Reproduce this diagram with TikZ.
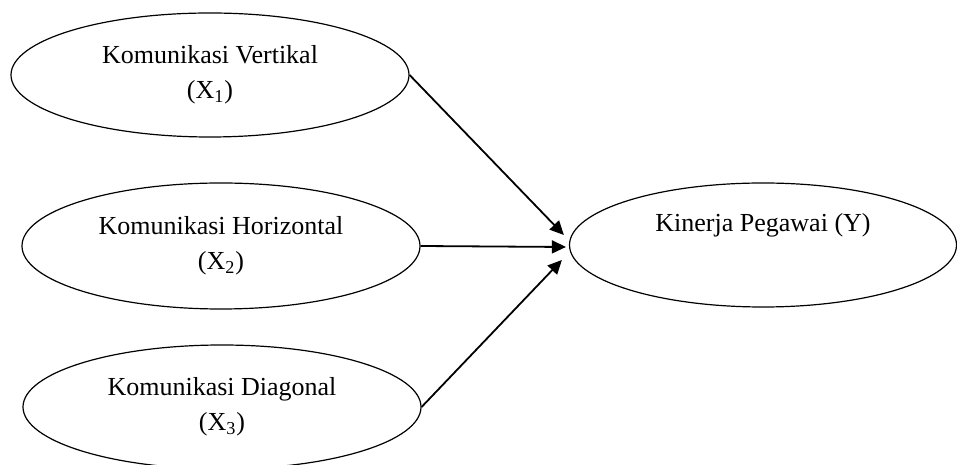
\documentclass[tikz,border=0pt]{standalone}
\usepackage{fontspec}
\setmainfont{Liberation Serif}
\usetikzlibrary{shapes.geometric,arrows.meta}

\begin{document}
\begin{tikzpicture}[x=0.5pt,y=0.5pt,
  var/.style={draw,ellipse,line width=0.6pt,minimum width=199pt,minimum height=62pt,
    inner sep=0pt,align=center,font=\fontsize{13}{17.5}\selectfont},
  arr/.style={-{Triangle[length=7pt,width=6.5pt]},line width=0.9pt}]
\useasboundingbox (0,0) rectangle (957,465);
\node[var] (x1) at (210,390) {Komunikasi Vertikal\\(X\textsubscript{1})};
\node[var,minimum height=63pt] (x2) at (221,219) {Komunikasi Horizontal\\(X\textsubscript{2})};
\node[var] (x3) at (222,58) {Komunikasi Diagonal\\(X\textsubscript{3})};
\node[var,minimum width=193.5pt] (y) at (763,220) {Kinerja Pegawai (Y)\\\strut};
\draw[arr] (x1.east) -- ([shift={(-5,10)}]y.west);
\draw[arr] (x2.east) -- ([shift={(-3,-2)}]y.west);
\draw[arr] (x3.east) -- ([shift={(-7,-15)}]y.west);
\end{tikzpicture}
\end{document}
